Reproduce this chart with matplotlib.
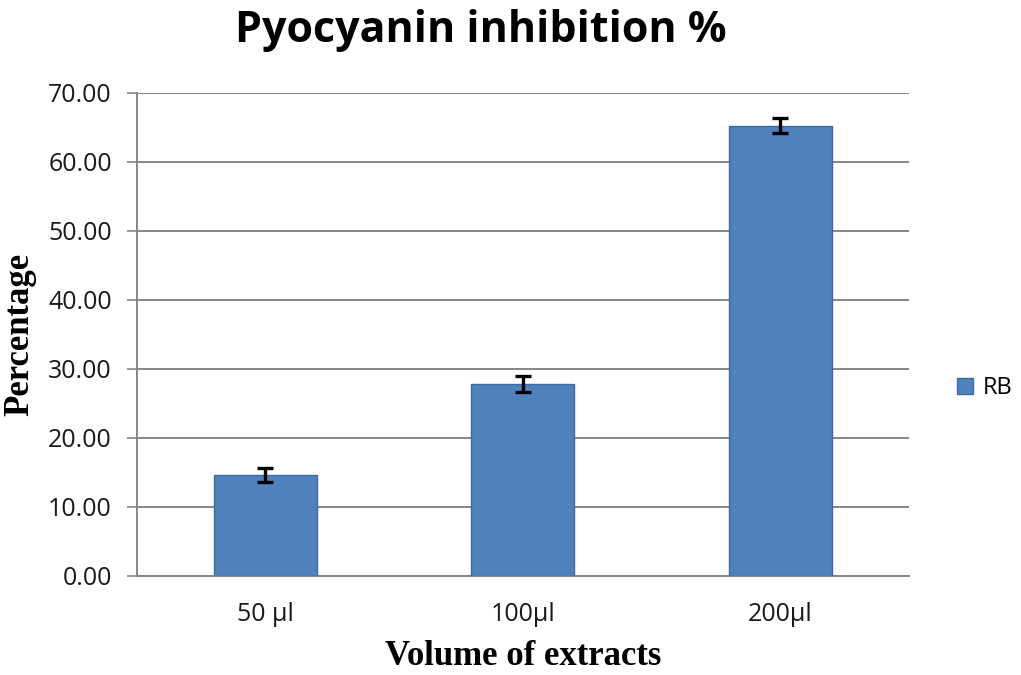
import matplotlib
matplotlib.use("Agg")
import matplotlib.pyplot as plt
import numpy as np

categories = ["50 µl", "100µl", "200µl"]
values = [14.6, 27.8, 65.2]
errors = [1.05, 1.1, 1.1]
yticks = [0, 10, 20, 30, 40, 50, 60, 70]
series_name = "RB"

fig = plt.figure(figsize=(10.21, 6.75), dpi=100)
ax = fig.add_axes([0.134, 0.1467, 0.756, 0.716])

x = np.arange(len(categories))
ax.bar(x, values, width=0.4, color="#4F81BD", edgecolor="#3C6CA8", linewidth=1.0,
       label=series_name, zorder=3)
ax.errorbar(x, values, yerr=errors, fmt="none", ecolor="black", elinewidth=2.4,
            capsize=6, capthick=2.4, zorder=4)

ax.set_xlim(-0.5, len(categories) - 0.5)
ax.set_ylim(0, 70)
ax.set_yticks(yticks)
ax.set_yticklabels([f"{v:.2f}" for v in yticks], fontsize=18, family="Open Sans", color="#1a1a1a")
ax.set_xticks(x)
ax.set_xticklabels(categories, fontsize=18, family="Open Sans", color="#1a1a1a")
ax.tick_params(axis="x", length=0, pad=19)
ax.tick_params(axis="y", length=7, width=1.2, color="#868686", pad=11)

ax.grid(axis="y", color="#868686", linewidth=1.4, zorder=0)
for s in ["top", "right"]:
    ax.spines[s].set_visible(False)
ax.spines["left"].set_color("#868686")
ax.spines["left"].set_linewidth(1.4)
ax.spines["bottom"].set_color("#868686")
ax.spines["bottom"].set_linewidth(1.4)

fig.text(0.471, 0.955, "Pyocyanin inhibition %", ha="center", va="center",
         fontsize=31, fontweight="bold", family="Open Sans")
ax.set_ylabel("Percentage", fontsize=25, fontweight="bold", family="Liberation Serif")
ax.yaxis.set_label_coords(-0.1295, 0.5)
ax.set_xlabel("Volume of extracts", fontsize=25, fontweight="bold", family="Liberation Serif")
ax.xaxis.set_label_coords(0.5, -0.1325)

leg = fig.legend(loc="center left", bbox_to_anchor=(0.937, 0.425), frameon=False,
                 prop={"family": "Open Sans", "size": 17}, handlelength=0.7, handleheight=0.7,
                 handletextpad=0.4, borderaxespad=0, borderpad=0)

fig.savefig("out.png", dpi=100)
